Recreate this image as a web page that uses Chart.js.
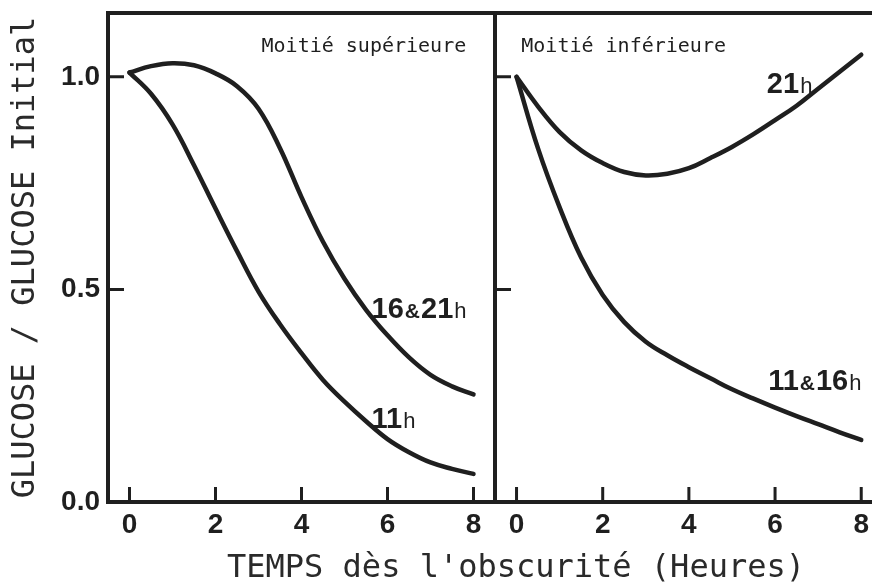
<!DOCTYPE html>
<html>
<head>
<meta charset="utf-8">
<script src="https://cdn.jsdelivr.net/npm/chart.js"></script>
<style>
  body { margin: 0; background: #fff; }
  #wrap { position: relative; width: 872px; height: 586px; overflow: hidden; background: #fff; }
  canvas { position: absolute; top: 0; }
  #c1 { left: 0; }
  #c2 { left: 480px; }
  #xtitle { position: absolute; left: 227px; top: 550px; font: 32px/32px "DejaVu Sans Mono"; color: #2a2a2a; white-space: nowrap; }
</style>
</head>
<body>
<div id="wrap">
  <canvas id="c1" width="500" height="586"></canvas>
  <canvas id="c2" width="392" height="586"></canvas>
  <div id="xtitle">TEMPS dès l'obscurité (Heures)</div>
</div>
<script>
// heures depuis l'obscurité
const hours = [0, 0.5, 1, 1.5, 2, 2.5, 3, 3.5, 4, 4.5, 5, 5.5, 6, 6.5, 7, 7.5, 8];

// moitié supérieure
const upper16and21 = [1.01, 1.025, 1.032, 1.027, 1.008, 0.978, 0.925, 0.832, 0.717, 0.612, 0.525, 0.452, 0.392, 0.34, 0.299, 0.272, 0.253];
const upper11 = [1.01, 0.96, 0.888, 0.792, 0.69, 0.59, 0.495, 0.418, 0.35, 0.287, 0.236, 0.19, 0.148, 0.117, 0.093, 0.078, 0.066];

// moitié inférieure
const lower21 = [1.0, 0.93, 0.87, 0.827, 0.797, 0.776, 0.768, 0.772, 0.785, 0.809, 0.835, 0.865, 0.898, 0.932, 0.972, 1.012, 1.052];
const lower11and16 = [1.0, 0.831, 0.693, 0.575, 0.487, 0.423, 0.377, 0.345, 0.317, 0.291, 0.265, 0.243, 0.222, 0.202, 0.183, 0.164, 0.146];

const xTicks = [0, 2, 4, 6, 8];
const yTicks = [0, 0.5, 1.0];

const ink = '#1f1f1f';
const boldFont = 'bold 29px "Liberation Sans"';
const smallBold = 'bold 21px "Liberation Sans"';
const hFont = '22px "Liberation Sans"';
const monoFont = '20px "DejaVu Sans Mono"';

function points(ys) {
    return hours.map((h, i) => ({x: h, y: ys[i]}));
}

function curve(ys) {
    return {
        data: points(ys),
        borderColor: ink,
        borderWidth: 4.5,
        pointRadius: 0,
        tension: 0.4,
        borderCapStyle: 'round',
        borderJoinStyle: 'round',
        fill: false
    };
}

// cadre + graduations vers l'intérieur
function framePlugin(sides) {
    return {
        id: 'frame',
        afterDatasetsDraw(chart) {
            const {ctx, chartArea: a, scales: {x, y}} = chart;
            ctx.save();
            ctx.strokeStyle = ink;
            ctx.lineWidth = 4;
            ctx.lineCap = 'square';
            ctx.beginPath();
            if (sides.top) { ctx.moveTo(a.left, a.top); ctx.lineTo(a.right, a.top); }
            if (sides.bottom) { ctx.moveTo(a.left, a.bottom); ctx.lineTo(a.right, a.bottom); }
            if (sides.left) { ctx.moveTo(a.left, a.top); ctx.lineTo(a.left, a.bottom); }
            if (sides.right) { ctx.moveTo(a.right, a.top); ctx.lineTo(a.right, a.bottom); }
            ctx.stroke();

            ctx.lineWidth = 3;
            ctx.lineCap = 'butt';
            ctx.beginPath();
            x.ticks.forEach(t => {
                const px = x.getPixelForValue(t.value);
                ctx.moveTo(px, a.bottom);
                ctx.lineTo(px, a.bottom - 15);
            });
            y.ticks.forEach(t => {
                if (t.value === 0) return;
                const py = y.getPixelForValue(t.value);
                ctx.moveTo(a.left, py);
                ctx.lineTo(a.left + 16, py);
            });
            ctx.stroke();
            ctx.restore();
        }
    };
}

// étiquettes des courbes
function labelPlugin(items) {
    return {
        id: 'curveLabels',
        afterDatasetsDraw(chart) {
            const {ctx, scales: {x, y}} = chart;
            ctx.save();
            ctx.fillStyle = ink;
            ctx.textAlign = 'left';
            ctx.textBaseline = 'alphabetic';
            items.forEach(lab => {
                let px = x.getPixelForValue(lab.x);
                const py = y.getPixelForValue(lab.y);
                lab.runs.forEach(([text, font]) => {
                    ctx.font = font;
                    ctx.fillText(text, px, py);
                    px += ctx.measureText(text).width + 1;
                });
            });
            ctx.restore();
        }
    };
}

const tickFont = {family: 'Liberation Sans', size: 28, weight: 'bold'};

function xScale(max) {
    return {
        type: 'linear',
        min: -0.5,
        max: max,
        afterBuildTicks: s => { s.ticks = xTicks.map(v => ({value: v})); },
        afterFit: s => { s.height = 84; s.paddingLeft = 0; s.paddingRight = 0; },
        grid: {display: false, drawTicks: false},
        border: {display: false},
        ticks: {padding: 6, color: ink, font: tickFont, maxRotation: 0, autoSkip: false}
    };
}

new Chart(document.getElementById('c1'), {
    type: 'line',
    data: {datasets: [curve(upper16and21), curve(upper11)]},
    options: {
        responsive: false,
        animation: false,
        layout: {padding: {top: 13, right: 5, left: 0, bottom: 0}},
        plugins: {legend: {display: false}, tooltip: {enabled: false}},
        scales: {
            x: xScale(8.5),
            y: {
                type: 'linear',
                min: 0,
                max: 1.15,
                afterBuildTicks: s => { s.ticks = yTicks.map(v => ({value: v})); },
                afterFit: s => { s.width = 108; s.paddingTop = 0; s.paddingBottom = 0; },
                grid: {display: false, drawTicks: false},
                border: {display: false},
                ticks: {padding: 8, color: ink, font: tickFont, callback: v => v.toFixed(1)},
                title: {
                    display: true,
                    text: 'GLUCOSE / GLUCOSE Initial',
                    color: '#2a2a2a',
                    font: {family: 'DejaVu Sans Mono', size: 32},
                    padding: {top: 6, bottom: 0}
                }
            }
        }
    },
    plugins: [
        framePlugin({top: true, bottom: true, left: true, right: true}),
        labelPlugin([
            {x: 3.07, y: 1.058, runs: [['Moitié supérieure', monoFont]]},
            {x: 5.63, y: 0.433, runs: [['16', boldFont], ['&', smallBold], ['21', boldFont], ['h', hFont]]},
            {x: 5.63, y: 0.174, runs: [['11', boldFont], ['h', hFont]]}
        ])
    ]
});

new Chart(document.getElementById('c2'), {
    type: 'line',
    data: {datasets: [curve(lower21), curve(lower11and16)]},
    options: {
        responsive: false,
        animation: false,
        layout: {padding: {top: 13, right: 0, left: 15, bottom: 0}},
        plugins: {legend: {display: false}, tooltip: {enabled: false}},
        scales: {
            x: xScale(8.25),
            y: {
                type: 'linear',
                display: false,
                min: 0,
                max: 1.15,
                afterBuildTicks: s => { s.ticks = yTicks.map(v => ({value: v})); }
            }
        }
    },
    plugins: [
        framePlugin({top: true, bottom: true, left: true, right: false}),
        labelPlugin([
            {x: 0.11, y: 1.058, runs: [['Moitié inférieure', monoFont]]},
            {x: 5.81, y: 0.963, runs: [['21', boldFont], ['h', hFont]]},
            {x: 5.84, y: 0.264, runs: [['11', boldFont], ['&', smallBold], ['16', boldFont], ['h', hFont]]}
        ])
    ]
});
</script>
</body>
</html>
